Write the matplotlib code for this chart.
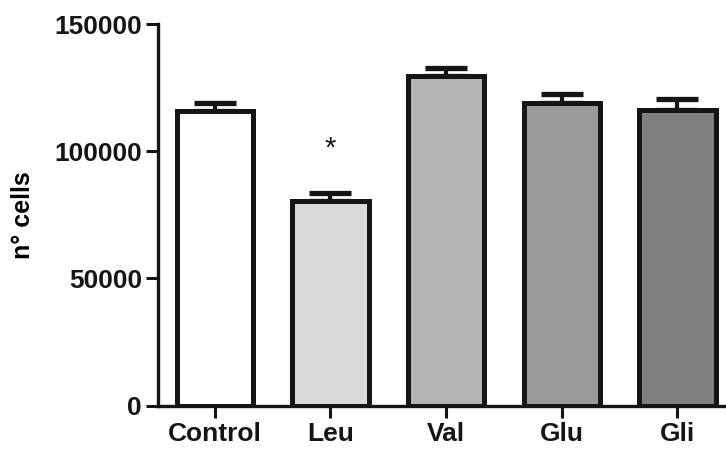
import matplotlib.pyplot as plt

plt.rcParams['font.family'] = ['Liberation Sans', 'DejaVu Sans']

groups = ['Control', 'Leu', 'Val', 'Glu', 'Gli']
cells = [115900, 80500, 129500, 118800, 116200]
sem = [3200, 3000, 3200, 3600, 4200]
colors = ['#ffffff', '#d9d9d9', '#b3b3b3', '#9b9b9b', '#7f7f7f']
signif = ['', '*', '', '', '']

fig = plt.figure(figsize=(7.26, 4.5), dpi=100)
ax = fig.add_axes([158 / 726, 44.3 / 450, 1 - 158 / 726, 381.7 / 450])

x = range(len(groups))
ax.bar(x, cells, width=0.66, color=colors, edgecolor='#151515', linewidth=3.6, zorder=2)
ax.errorbar(x, cells, yerr=[[0] * len(sem), sem], fmt='none', ecolor='#151515',
            elinewidth=3, capsize=15, capthick=3.8, zorder=1)

for i in x:
    if signif[i]:
        ax.text(i, cells[i] + sem[i] + 14500, signif[i], ha='center', va='baseline',
                fontsize=21, color='#151515')

ax.set_xlim(-0.49, 4.42)
ax.set_ylim(0, 150000)
ax.set_yticks([0, 50000, 100000, 150000])
ax.set_xticks(list(x))
ax.set_xticklabels(groups)
ax.set_ylabel('n° cells', fontsize=18, fontweight='bold', labelpad=14)

for s in ['top', 'right']:
    ax.spines[s].set_visible(False)
for s in ['left', 'bottom']:
    ax.spines[s].set_linewidth(2.4)
    ax.spines[s].set_color('#151515')
ax.tick_params(axis='both', width=2.2, length=8.5, color='#151515', labelsize=19,
               labelcolor='#151515', pad=3)
for lab in ax.get_xticklabels() + ax.get_yticklabels():
    lab.set_fontweight('bold')

fig.savefig('out.png', dpi=100)
